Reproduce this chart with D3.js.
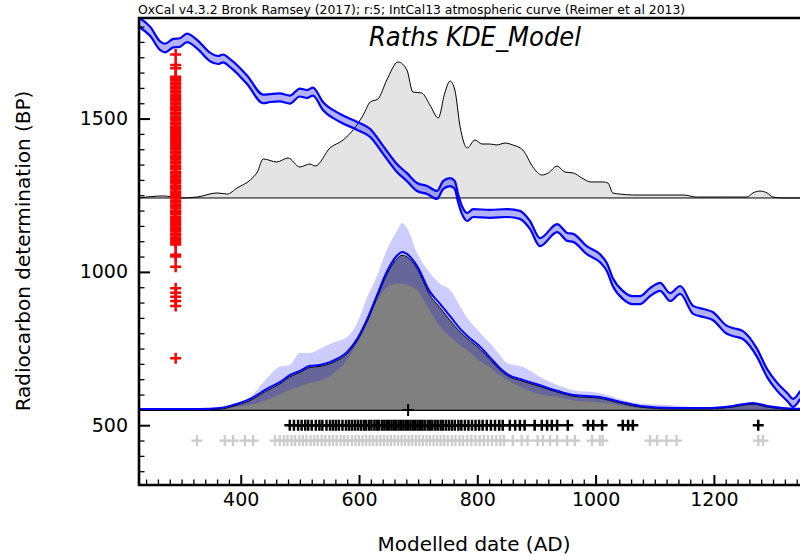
<!DOCTYPE html>
<html><head><meta charset="utf-8">
<script src="https://cdn.jsdelivr.net/npm/d3@7"></script>
<style>body{margin:0;background:#fff}svg{display:block}</style>
</head><body><svg id="c" width="800" height="557"></svg>
<script>
// ---------------- DATA ----------------
const headerText = "OxCal v4.3.2 Bronk Ramsey (2017); r:5; IntCal13 atmospheric curve (Reimer et al 2013)";
const titleText = "Raths KDE_Model";
const xLabel = "Modelled date (AD)";
const yLabel = "Radiocarbon determination (BP)";
const xMajorTicks = [400, 600, 800, 1000, 1200];
const yMajorTicks = [500, 1000, 1500];

// IntCal13 calibration curve (calendar year AD, BP, 1 sigma)
const calYears = [229,247,264,272,286,297,309,326,348,362,370,382,411,438,450,466,483,500,512,522,539,568,597,619,641,664,681,698,715,732,742,754,762,767,774,783,793,821,850,872,889,906,935,952,962,985,1007,1019,1029,1046,1062,1075,1092,1109,1126,1143,1165,1182,1198,1222,1232,1249,1273,1290,1307,1324,1334,1346];
const calBP = [1813,1784,1737,1730,1746,1748,1763,1743,1701,1691,1696,1681,1626,1564,1567,1569,1562,1585,1580,1588,1541,1502,1476,1453,1397,1339,1309,1277,1267,1251,1283,1293,1283,1244,1202,1179,1192,1189,1192,1186,1153,1097,1143,1114,1111,1071,1045,1016,967,925,908,908,934,951,918,941,876,866,856,811,804,794,736,670,625,592,573,599];
const calSigma = [15,15,14,14,14,14,14,14,14,13,13,13,14,14,13,13,13,13,13,13,13,13,13,13,13,13,13,13,13,13,13,13,13,13,13,13,13,13,13,13,13,13,13,13,13,13,13,13,13,13,13,13,13,13,13,13,13,13,13,13,13,13,13,13,13,13,13,13];

// Summed (unmodelled) distribution, relative probability
const spdYears = [228,269,297,326,360,377,394,416,428,438,461,480,500,517,526,551,573,590,607,619,632,647,666,681,691,706,720,734,745,754,762,771,783,796,808,821,833,847,860,877,894,909,920,935,948,962,977,991,1012,1021,1029,1041,1063,1148,1171,1215,1256,1266,1278,1290,1300,1317,1346];
const spdProb = [0,0.015,0,0.007,0.037,0.029,0.074,0.132,0.191,0.287,0.265,0.294,0.228,0.25,0.235,0.368,0.426,0.5,0.61,0.706,0.728,0.868,1.0,0.941,0.779,0.772,0.684,0.588,0.772,0.86,0.794,0.522,0.368,0.426,0.397,0.397,0.39,0.404,0.39,0.353,0.228,0.169,0.184,0.235,0.191,0.184,0.147,0.118,0.118,0.11,0.037,0.029,0.022,0.022,0.007,0.007,0.007,0.037,0.051,0.037,0.007,0,0];

// KDE model: distribution, mean, and +/- 1 sigma envelope
const kdeYears = [228,330,365,387,416,444,466,483,500,517,534,556,580,597,614,630,647,664,673,681,698,720,737,754,771,783,805,821,838,850,877,906,935,962,1007,1041,1075,1131,1188,1232,1266,1290,1317,1346];
const kdeProb = [0,0,0.005,0.023,0.06,0.122,0.165,0.21,0.238,0.27,0.277,0.302,0.358,0.44,0.565,0.71,0.862,0.962,0.985,0.975,0.9,0.73,0.65,0.57,0.495,0.455,0.385,0.322,0.255,0.22,0.182,0.148,0.113,0.087,0.074,0.044,0.018,0.006,0.006,0.018,0.036,0.018,0.006,0];
const kdeMean = [0,0,0.006,0.025,0.064,0.127,0.17,0.215,0.242,0.274,0.28,0.306,0.363,0.446,0.573,0.72,0.873,0.975,1.0,0.987,0.911,0.745,0.669,0.59,0.51,0.465,0.395,0.33,0.26,0.223,0.185,0.15,0.115,0.089,0.076,0.045,0.019,0.006,0.006,0.019,0.038,0.019,0.006,0];
const kdeHi = [0,0,0.01,0.032,0.083,0.2,0.274,0.287,0.363,0.363,0.39,0.427,0.465,0.554,0.72,0.85,1.02,1.14,1.191,1.16,1.0,0.873,0.803,0.764,0.66,0.586,0.49,0.427,0.35,0.299,0.274,0.21,0.159,0.125,0.108,0.07,0.04,0.03,0.013,0.019,0.045,0.025,0.006,0];
const kdeLo = [0,0,0,0.015,0.032,0.064,0.1,0.127,0.15,0.172,0.185,0.23,0.32,0.427,0.55,0.69,0.78,0.805,0.805,0.796,0.764,0.63,0.53,0.465,0.41,0.382,0.31,0.27,0.22,0.191,0.14,0.1,0.083,0.06,0.048,0.03,0.01,0,0,0,0,0,0,0];
const kdeMeanDate = 683;

// Radiocarbon determinations (BP)
const dateBP = [718,889,905,919,932,947,1017,1050,1056,1089,1094,1101,1107,1112,1120,1125,1133,1138,1144,1151,1155,1163,1169,1175,1180,1188,1194,1198,1207,1213,1218,1226,1231,1239,1245,1250,1258,1262,1271,1277,1282,1290,1296,1301,1309,1314,1322,1326,1335,1341,1346,1354,1360,1367,1373,1378,1386,1391,1399,1405,1410,1418,1423,1431,1437,1442,1450,1455,1463,1469,1474,1482,1487,1495,1501,1506,1514,1519,1527,1533,1538,1546,1551,1559,1564,1570,1577,1585,1590,1598,1603,1611,1616,1624,1629,1636,1664,1675,1709];

// Modelled (black) and unmodelled (grey) median dates, AD
const modelledDates = [483,490,497,503,509,514,520,527,533,538,545,551,556,561,566,572,578,583,588,593,598,603,608,612,617,621,626,630,634,639,643,647,651,655,659,663,667,671,675,679,683,687,691,695,699,703,707,711,716,720,724,729,733,738,742,747,752,757,762,768,773,779,785,791,797,803,809,816,823,830,837,843,855,864,872,880,897,909,918,926,935,953,987,996,1011,1046,1055,1063,1275];
const unmodelledDates = [326,373,387,407,421,458,466,473,479,486,492,499,505,511,518,524,530,537,543,550,556,562,569,575,581,588,594,600,606,612,618,624,630,636,642,648,654,660,666,672,678,684,690,696,702,708,714,720,726,732,738,744,750,757,763,770,776,783,790,797,804,811,818,825,832,839,845,860,875,885,902,911,923,935,952,965,994,1007,1012,1092,1104,1120,1137,1275,1283];

// ---------------- LAYOUT ----------------
const L = 139, R = 800, T = 18, B = 485;
const dateAxisPos = 290;       // calendar position for the BP determinations
const spdBaseBP = 1241, spdHeight = 136;
const kdeBaseBP = 550, kdeHeight = 157;
const rowModelledBP = 500, rowUnmodelledBP = 450;

const svg = d3.select("#c");
const x = d3.scaleLinear().domain([228, 1345.6]).range([L, R]);
const y = d3.scaleLinear().domain([305, 1828]).range([B, T]);
const ySpd = d3.scaleLinear().domain([0, 1]).range([y(spdBaseBP), y(spdBaseBP) - spdHeight]);
const yKde = d3.scaleLinear().domain([0, 1]).range([y(kdeBaseBP), y(kdeBaseBP) - kdeHeight]);

svg.append("defs").append("clipPath").attr("id", "clip")
  .append("rect").attr("x", L).attr("y", T).attr("width", R - L).attr("height", B - T);
const g = svg.append("g").attr("clip-path", "url(#clip)");
const curve = d3.curveMonotoneX;

// Upper summed distribution
const spd = spdYears.map((d, i) => ({yr: d, p: spdProb[i]}));
g.append("path").datum(spd)
  .attr("d", d3.area().curve(curve).x(d => x(d.yr)).y0(ySpd(0)).y1(d => ySpd(d.p)))
  .attr("fill", "#e4e4e4");
g.append("path").datum(spd)
  .attr("d", d3.line().curve(curve).x(d => x(d.yr)).y(d => ySpd(d.p)))
  .attr("fill", "none").attr("stroke", "#000").attr("stroke-width", 1);
g.append("line").attr("x1", L).attr("x2", R).attr("y1", ySpd(0)).attr("y2", ySpd(0))
  .attr("stroke", "#000").attr("stroke-width", 1);

// Lower KDE distribution
const kde = kdeYears.map((d, i) => ({yr: d, p: kdeProb[i], m: kdeMean[i], hi: kdeHi[i], lo: kdeLo[i]}));
g.append("path").datum(kde)
  .attr("d", d3.area().curve(curve).x(d => x(d.yr)).y0(yKde(0)).y1(d => yKde(d.p)))
  .attr("fill", "#808080");
g.append("path").datum(kde)
  .attr("d", d3.area().curve(curve).x(d => x(d.yr)).y0(d => yKde(d.lo)).y1(d => yKde(d.hi)))
  .attr("fill", "rgba(0,0,255,0.2)");
g.append("line").attr("x1", L).attr("x2", R).attr("y1", yKde(0) + 0.5).attr("y2", yKde(0) + 0.5)
  .attr("stroke", "#000").attr("stroke-width", 1.2);
g.append("path").datum(kde)
  .attr("d", d3.line().curve(curve).x(d => x(d.yr)).y(d => yKde(d.p)))
  .attr("fill", "none").attr("stroke", "#000").attr("stroke-width", 1);
g.append("path").datum(kde)
  .attr("d", d3.line().curve(curve).x(d => x(d.yr)).y(d => yKde(d.m) - 1))
  .attr("fill", "none").attr("stroke", "#0000ff").attr("stroke-width", 2);

// Calibration curve band
const cal = calYears.map((d, i) => ({yr: d, bp: calBP[i], s: calSigma[i]}));
g.append("path").datum(cal)
  .attr("d", d3.area().curve(curve).x(d => x(d.yr)).y0(d => y(d.bp - d.s)).y1(d => y(d.bp + d.s)))
  .attr("fill", "rgba(0,0,255,0.3)");
[1, -1].forEach(k => {
  g.append("path").datum(cal)
    .attr("d", d3.line().curve(curve).x(d => x(d.yr)).y(d => y(d.bp + k * d.s)))
    .attr("fill", "none").attr("stroke", "#0000ff").attr("stroke-width", 2.2);
});

// Crosses
const cross = s => `M${-s},0H${s}M0,${-s}V${s}`;
g.append("g").selectAll("path").data(dateBP).join("path")
  .attr("transform", d => `translate(${x(dateAxisPos)},${y(d)})`)
  .attr("d", cross(5.5)).attr("stroke", "#ff0000").attr("stroke-width", 2.5).attr("fill", "none");
g.append("g").selectAll("path").data(unmodelledDates).join("path")
  .attr("transform", d => `translate(${x(d)},${y(rowUnmodelledBP)})`)
  .attr("d", cross(5.5)).attr("stroke", "#cccccc").attr("stroke-width", 2.3).attr("fill", "none");
g.append("g").selectAll("path").data(modelledDates).join("path")
  .attr("transform", d => `translate(${x(d)},${y(rowModelledBP)})`)
  .attr("d", cross(5.5)).attr("stroke", "#000").attr("stroke-width", 2.5).attr("fill", "none");
g.append("path")
  .attr("transform", `translate(${x(kdeMeanDate)},${y(kdeBaseBP)})`)
  .attr("d", cross(6)).attr("stroke", "#000").attr("stroke-width", 2).attr("fill", "none");

// Axes
const font = "DejaVu Sans, sans-serif";
const xMinor = d3.range(240, 1345, 20).filter(v => !xMajorTicks.includes(v));
const yMinor = d3.range(350, 1828, 50).filter(v => !yMajorTicks.includes(v));
svg.append("g").attr("transform", `translate(0,${B})`)
  .call(d3.axisBottom(x).tickValues(xMinor).tickSizeInner(-5.5).tickSizeOuter(0).tickFormat(""))
  .call(a => a.select(".domain").remove())
  .selectAll("line").attr("stroke-width", 1.3);
svg.append("g").attr("transform", `translate(0,${B})`)
  .call(d3.axisBottom(x).tickValues(xMajorTicks).tickSizeInner(-10).tickSizeOuter(0).tickPadding(8).tickFormat(d3.format("d")))
  .call(a => a.select(".domain").remove())
  .call(a => a.selectAll("line").attr("stroke-width", 2))
  .call(a => a.selectAll("text").attr("font-family", font).attr("font-size", 19).attr("fill", "#000"));
svg.append("g").attr("transform", `translate(${L},0)`)
  .call(d3.axisLeft(y).tickValues(yMinor).tickSizeInner(-5.5).tickSizeOuter(0).tickFormat(""))
  .call(a => a.select(".domain").remove())
  .selectAll("line").attr("stroke-width", 1.3);
svg.append("g").attr("transform", `translate(${L},0)`)
  .call(d3.axisLeft(y).tickValues(yMajorTicks).tickSizeInner(-11).tickSizeOuter(0).tickPadding(11).tickFormat(d3.format("d")))
  .call(a => a.select(".domain").remove())
  .call(a => a.selectAll("line").attr("stroke-width", 2))
  .call(a => a.selectAll("text").attr("font-family", font).attr("font-size", 19).attr("fill", "#000"));

// Frame
svg.append("path").attr("d", `M${R},${T}H${L}V${B}H${R}`)
  .attr("fill", "none").attr("stroke", "#000").attr("stroke-width", 2.6);

// Texts
svg.append("text").attr("x", L - 1).attr("y", 14)
  .attr("font-family", font).attr("font-size", 12.4).text(headerText);
svg.append("text").attr("x", 475).attr("y", 46).attr("text-anchor", "middle")
  .attr("font-family", "DejaVu Sans Condensed, DejaVu Sans, sans-serif").attr("font-stretch", "condensed")
  .attr("font-style", "italic").attr("font-size", 27).text(titleText);
svg.append("text").attr("x", 474).attr("y", 551).attr("text-anchor", "middle")
  .attr("font-family", font).attr("font-size", 20).text(xLabel);
svg.append("text").attr("transform", "translate(29.5,251) rotate(-90)").attr("text-anchor", "middle")
  .attr("font-family", font).attr("font-size", 20).text(yLabel);
</script></body></html>
